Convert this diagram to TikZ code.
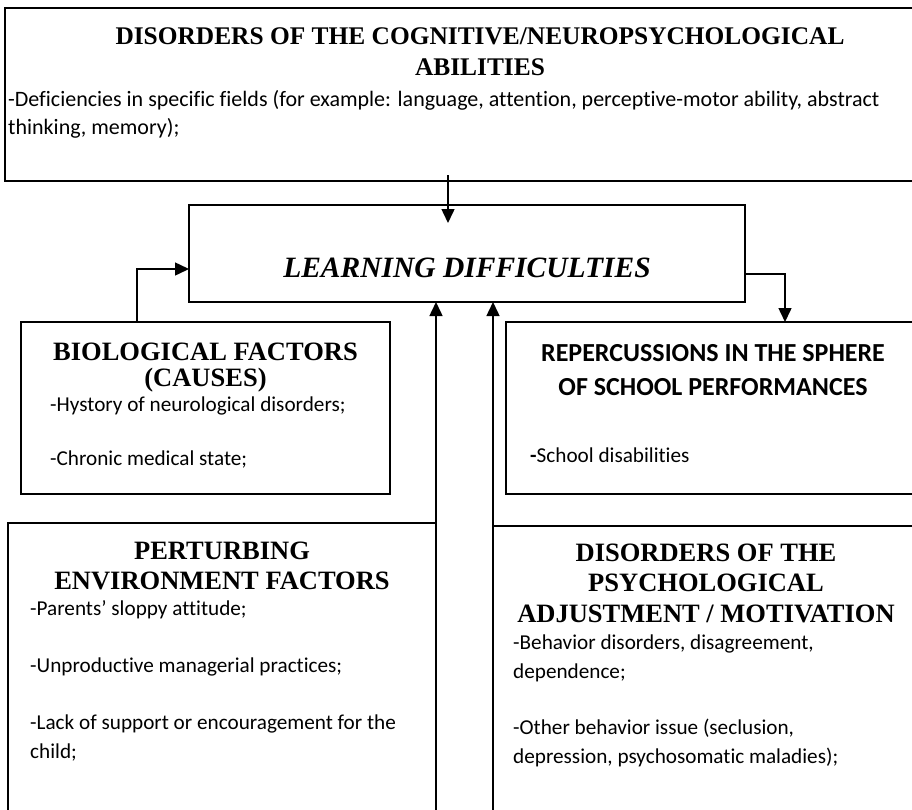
\documentclass[tikz,border=0pt]{standalone}
\usepackage{fontspec}
\setmainfont{Liberation Serif}
\newfontfamily\calib[Ligatures=NoCommon]{Carlito}
\usetikzlibrary{arrows.meta}
\begin{document}
\begin{tikzpicture}[x=1pt,y=-1pt,
  box/.style={draw, line width=1.5pt, inner sep=0pt, outer sep=0pt},
  ttl/.style={inner sep=0pt, anchor=base, font=\fontsize{26.5}{26.5}\selectfont\bfseries},
  ttltop/.style={inner sep=0pt, anchor=base, font=\fontsize{25.4}{25.4}\selectfont\bfseries},
  ttlsans/.style={inner sep=0pt, anchor=base, font=\calib\fontsize{26}{26}\selectfont\bfseries},
  bdy/.style={inner sep=0pt, anchor=base west, font=\calib\fontsize{21.2}{21.2}\selectfont},
  bdytop/.style={inner sep=0pt, anchor=base west, font=\calib\fontsize{22}{22}\selectfont},
  ldfont/.style={inner sep=0pt, anchor=base, font=\fontsize{29.5}{29.5}\selectfont\bfseries\itshape},
  arr/.style={line width=1.5pt, -{Triangle[length=14pt,width=13pt]}}]
\useasboundingbox (0,0) rectangle (912,809);
\clip (0,0) rectangle (912,809);
% boxes
\node[box, minimum width=950pt, minimum height=173pt] (cog) at (480,94.5) {};
\node[box, minimum width=556pt, minimum height=97pt] (ld) at (467,253.5) {};
\node[box, minimum width=369pt, minimum height=172pt] (bio) at (205.5,408) {};
\node[box, minimum width=414pt, minimum height=172pt] (rep) at (713,408) {};
\node[box, minimum width=428pt, minimum height=320pt] (env) at (222,683) {};
\node[box, minimum width=442pt, minimum height=317pt] (psy) at (714,684.5) {};
% top box texts
\node[ttltop] (cogt1) at (480,44) {DISORDERS OF THE COGNITIVE/NEUROPSYCHOLOGICAL};
\node[ttltop] (cogt2) at (480,75) {ABILITIES};
\node[bdytop] (cogb1) at (8,106) {-Deficiencies in specific fields (for example: language, attention, perceptive-motor ability, abstract};
\node[bdytop] (cogb2) at (8,134) {thinking, memory);};
% learning difficulties
\node[ldfont] (ldt) at (467,277) {LEARNING DIFFICULTIES};
% biological
\node[ttl] (biot1) at (205.5,360) {BIOLOGICAL FACTORS};
\node[ttl] (biot2) at (205.5,386) {(CAUSES)};
\node[bdy] (biob1) at (50,411) {-Hystory of neurological disorders;};
\node[bdy] (biob2) at (50,465) {-Chronic medical state;};
% repercussions
\node[ttlsans] (rept1) at (713,361) {REPERCUSSIONS IN THE SPHERE};
\node[ttlsans] (rept2) at (713,395) {OF SCHOOL PERFORMANCES};
\node[bdy] (repb1) at (530,462) {{\bfseries -}School disabilities};
% environment
\node[ttl] (envt1) at (222,559) {PERTURBING};
\node[ttl] (envt2) at (222,589) {ENVIRONMENT FACTORS};
\node[bdy] (envb1) at (30,615) {-Parents’ sloppy attitude;};
\node[bdy] (envb2) at (30,672) {-Unproductive managerial practices;};
\node[bdy] (envb3) at (30,729) {-Lack of support or encouragement for the};
\node[bdy] (envb4) at (30,758) {child;};
% psychological
\node[ttl] (psyt1) at (706,561) {DISORDERS OF THE};
\node[ttl] (psyt2) at (706,591) {PSYCHOLOGICAL};
\node[ttl] (psyt3) at (706,622) {ADJUSTMENT / MOTIVATION};
\node[bdy] (psyb1) at (513,649) {-Behavior disorders, disagreement,};
\node[bdy] (psyb2) at (513,678) {dependence;};
\node[bdy] (psyb3) at (513,734) {-Other behavior issue (seclusion,};
\node[bdy] (psyb4) at (513,763) {depression, psychosomatic maladies);};
% connectors
\coordinate (tk) at (448,175);
\draw[arr] (tk) -- ([yshift=-18pt]tk |- ld.north);
\coordinate (lk) at (137,269);
\draw[arr] (lk |- bio.north) -- (lk) -- (lk -| ld.west);
\coordinate (rk) at (785,274);
\draw[arr] (rk -| ld.east) -- (rk) -- (rk |- rep.north);
\draw[arr] (env.south east) -- (env.south east |- ld.south);
\draw[arr] (psy.south west) -- (psy.south west |- ld.south);
\end{tikzpicture}
\end{document}
